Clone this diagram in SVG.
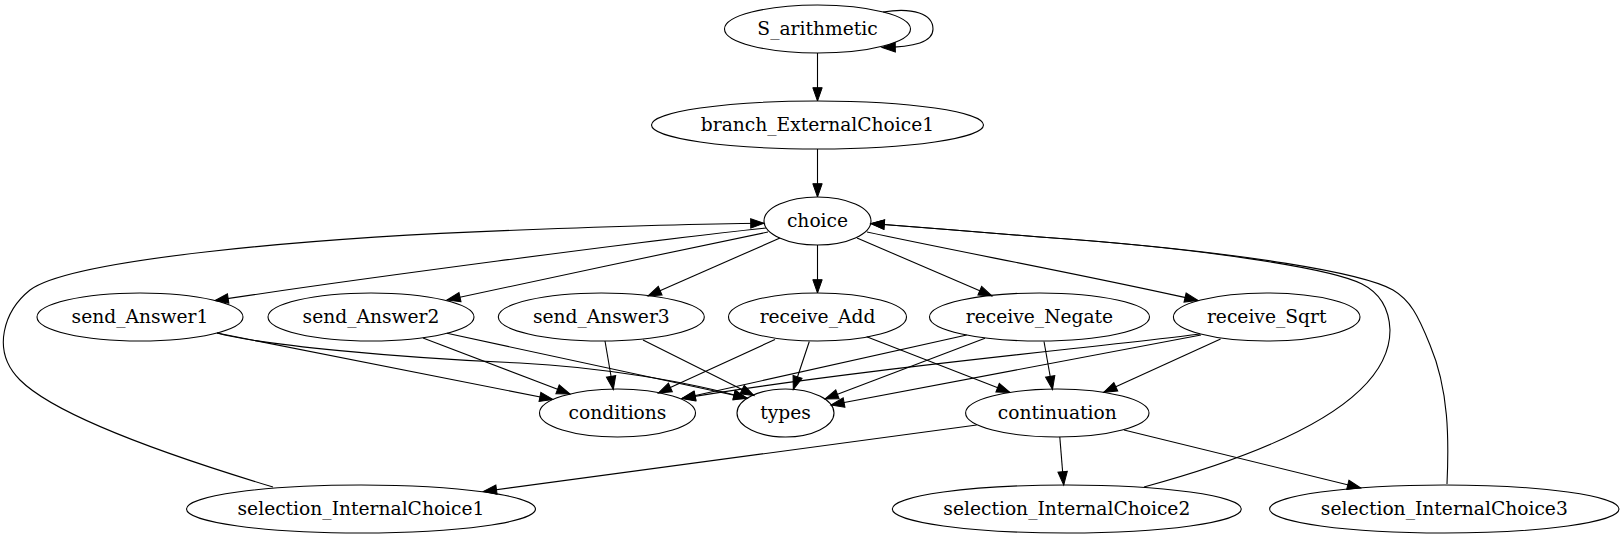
<svg xmlns="http://www.w3.org/2000/svg" width="1624" height="539" viewBox="0 0 1624 539">
<style>
.n ellipse{fill:none;stroke:#000;stroke-width:1.1}
.n text{font-family:"DejaVu Serif","Liberation Serif",serif;font-size:18.67px;text-anchor:middle;fill:#000}
.e path{fill:none;stroke:#000;stroke-width:1.1;marker-end:url(#ah)}
</style>
<defs>
<marker id="ah" viewBox="0 0 13.3 9.4" refX="13.3" refY="4.7" markerWidth="13.3" markerHeight="9.4" orient="auto" markerUnits="userSpaceOnUse" overflow="visible">
<path d="M0,0 L13.3,4.7 L0,9.4 z" fill="#000" stroke="#000" stroke-width="1"/>
</marker>
</defs>
<rect x="0" y="0" width="1624" height="539" fill="#fff"/>
<g id="connectors" class="e">
<path d="M883,12 C913,7 933,14 933,29 C933,42 915,47 882,47.5"/>
<path d="M817.5,53 L817.5,101"/>
<path d="M817.5,149 L817.5,197"/>
<path d="M766,228 C650,240 350,280 215,300.5"/>
<path d="M768,232 C700,246 520,284 447,300"/>
<path d="M780,238 L648,296"/>
<path d="M817.5,245 L817.5,293"/>
<path d="M857,238 L992,296"/>
<path d="M867,232 C950,250 1100,278 1198,300.5"/>
<path d="M217,333 L553,399.5"/>
<path d="M217,333 C260,345 400,358 520,363 C600,367 690,382 747,398.5"/>
<path d="M423,338 L570,394"/>
<path d="M447,333.3 L747,398"/>
<path d="M605,341 L613.3,389.5"/>
<path d="M643,340 L754,395.5"/>
<path d="M775,339.5 L658.3,393"/>
<path d="M809.3,341.5 L793.3,389.5"/>
<path d="M866.7,336.7 L1010,392.5"/>
<path d="M966.7,335 L682,398.5"/>
<path d="M985,338.3 L825,399"/>
<path d="M1044,341.5 L1052.5,389.5"/>
<path d="M1200,334 C1100,347 850,370 682,398.5"/>
<path d="M1201,335 L831,405"/>
<path d="M1220.6,339 L1103.7,392.3"/>
<path d="M976.7,425 L483.3,491.5"/>
<path d="M1059.8,437 L1063.7,485"/>
<path d="M1124,430 L1360.7,488"/>
<path d="M273,487 C200,465 60,420 20,380 C-10,350 5,310 30,290 C70,260 300,238 520,230 C600,227 690,224 764,223.3"/>
<path d="M1144,487 C1280,450 1390,400 1390,330 C1389,305 1378,292 1362,284 C1330,268 1200,248 1040,237 C980,232 930,228 871,223.5"/>
<path d="M1447,484 C1449,440 1449,390 1430,345 C1418,315 1410,300 1393,290 C1365,274 1250,252 1040,237 C980,232 930,228 871,223.5"/>
</g>
<g id="S_arithmetic" class="n"><ellipse cx="817.5" cy="29" rx="93" ry="24"/><text x="817.5" y="34.5">S_arithmetic</text></g>
<g id="branch_ExternalChoice1" class="n"><ellipse cx="817.5" cy="125" rx="166" ry="24"/><text x="817.5" y="130.5">branch_ExternalChoice1</text></g>
<g id="choice" class="n"><ellipse cx="817.5" cy="221" rx="53.5" ry="24"/><text x="817.5" y="226.5">choice</text></g>
<g id="send_Answer1" class="n"><ellipse cx="140" cy="317" rx="103" ry="24"/><text x="140" y="322.5">send_Answer1</text></g>
<g id="send_Answer2" class="n"><ellipse cx="371" cy="317" rx="103" ry="24"/><text x="371" y="322.5">send_Answer2</text></g>
<g id="send_Answer3" class="n"><ellipse cx="601.3" cy="317" rx="103" ry="24"/><text x="601.3" y="322.5">send_Answer3</text></g>
<g id="receive_Add" class="n"><ellipse cx="817.5" cy="317" rx="89" ry="24"/><text x="817.5" y="322.5">receive_Add</text></g>
<g id="receive_Negate" class="n"><ellipse cx="1039.5" cy="317" rx="110" ry="24"/><text x="1039.5" y="322.5">receive_Negate</text></g>
<g id="receive_Sqrt" class="n"><ellipse cx="1266.7" cy="317" rx="93.3" ry="24"/><text x="1266.7" y="322.5">receive_Sqrt</text></g>
<g id="conditions" class="n"><ellipse cx="617.5" cy="413" rx="78" ry="24"/><text x="617.5" y="418.5">conditions</text></g>
<g id="types" class="n"><ellipse cx="785.5" cy="413" rx="48.5" ry="24"/><text x="785.5" y="418.5">types</text></g>
<g id="continuation" class="n"><ellipse cx="1057.3" cy="413" rx="91.7" ry="24"/><text x="1057.3" y="418.5">continuation</text></g>
<g id="selection_InternalChoice1" class="n"><ellipse cx="361" cy="509" rx="174.5" ry="24"/><text x="361" y="514.5">selection_InternalChoice1</text></g>
<g id="selection_InternalChoice2" class="n"><ellipse cx="1066.8" cy="509" rx="174.5" ry="24"/><text x="1066.8" y="514.5">selection_InternalChoice2</text></g>
<g id="selection_InternalChoice3" class="n"><ellipse cx="1444.3" cy="509" rx="174.7" ry="24"/><text x="1444.3" y="514.5">selection_InternalChoice3</text></g>
</svg>
